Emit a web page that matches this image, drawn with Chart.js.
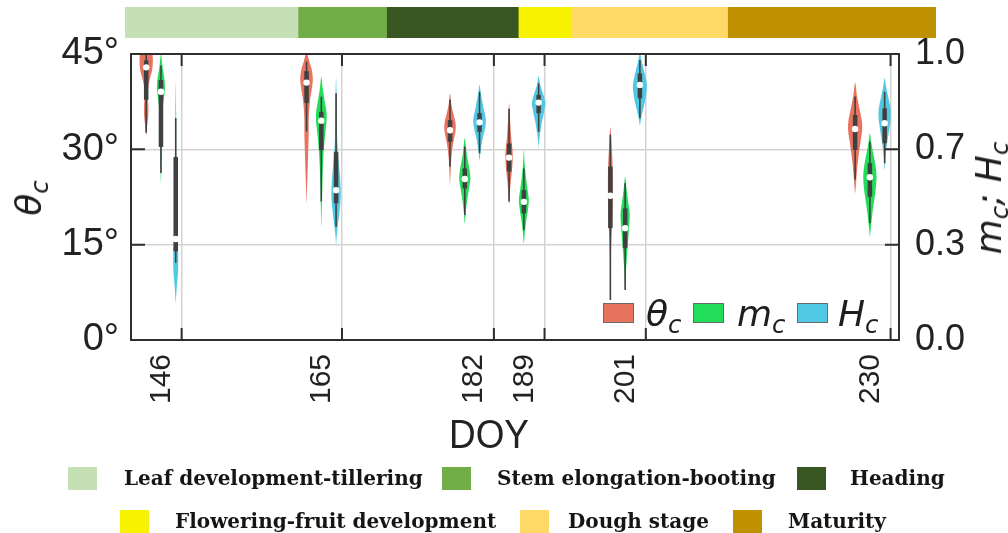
<!DOCTYPE html>
<html>
<head>
<meta charset="utf-8">
<script src="https://cdn.jsdelivr.net/npm/chart.js@4.4.1/dist/chart.umd.min.js"></script>
<style>
  html, body { margin: 0; padding: 0; background: #fff; }
  #wrap { position: relative; width: 1008px; height: 533px; overflow: hidden; }
  #main { position: absolute; left: 0; top: 0; }
  #stages { position: absolute; left: 125px; top: 7px; }
  .math { position: absolute; font-family: "DejaVu Sans", sans-serif; font-style: italic; font-size: 36px; line-height: 1; color: #1e1e1e; white-space: nowrap; }
  .math .sb { font-size: 0.68em; position: relative; top: 0.3em; }
  .ytitle { transform: translate(-50%, -50%) rotate(-90deg); }
  .xtitle { position: absolute; transform: translate(-50%, -50%) scaleX(0.9); font-family: "Liberation Sans", sans-serif; font-size: 41px; line-height: 1; color: #222; }
  .sw { position: absolute; box-sizing: border-box; }
  .stage-text { position: absolute; font-family: "DejaVu Serif", serif; font-weight: bold; font-size: 20px; line-height: 1; color: #151515; white-space: nowrap; }
</style>
</head>
<body>
<div id="wrap">
  <canvas id="main" width="1008" height="533"></canvas>
  <canvas id="stages" width="811" height="31"></canvas>
  <div id="overlay"></div>
</div>
<script>
// --- eixos ---
const xTickValues = [146, 165, 183, 189, 201, 230];
const xTickLabels = ["146", "165", "182", "189", "201", "230"];
const thetaTickValues = [0, 15, 30, 45];
const thetaTickLabels = ["0°", "15°", "30°", "45°"];
const fracTickValues = [0, 1 / 3, 2 / 3, 1];
const fracTickLabels = ["0.0", "0.3", "0.7", "1.0"];

// dias de amostragem
const doyValues = [146, 165, 182, 189, 201, 230];

// theta_c (graus): mediana, quartis, bigodes e perfil [valor, densidade relativa]
const thetaMedian = [42.9, 40.5, 33.0, 28.7, 22.7, 33.2];
const thetaQ1 = [37.8, 37.3, 31.2, 26.5, 17.6, 29.9];
const thetaQ3 = [44.0, 42.3, 34.6, 30.9, 27.3, 35.4];
const thetaLow = [32.6, 32.8, 27.3, 21.8, 6.3, 25.2];
const thetaHigh = [45.0, 43.8, 37.8, 36.4, 32.3, 38.3];
const thetaShape = [
  [[32.2, 0], [33.5, 0.12], [35, 0.28], [36.5, 0.32], [38, 0.25], [39.5, 0.25], [41, 0.5], [42.5, 0.85], [44, 0.95], [45.5, 0.8], [47, 0]],
  [[21.5, 0], [23.5, 0.06], [26, 0.14], [29, 0.22], [32, 0.3], [35, 0.32], [37.5, 0.48], [39.5, 0.75], [41, 0.9], [42.5, 0.75], [43.8, 0.4], [45.2, 0]],
  [[24.6, 0], [26, 0.07], [28, 0.15], [30, 0.32], [31.5, 0.55], [33, 0.8], [34.2, 0.78], [35.5, 0.5], [37, 0.2], [38.8, 0]],
  [[21.3, 0], [22.5, 0.08], [24.5, 0.2], [26.5, 0.4], [28.5, 0.52], [30, 0.48], [32, 0.3], [35, 0.12], [37.3, 0]],
  [[6, 0], [9, 0.03], [13, 0.07], [16, 0.15], [19, 0.28], [22, 0.34], [25, 0.36], [28, 0.3], [31, 0.15], [33.5, 0]],
  [[23.1, 0], [25, 0.15], [27, 0.3], [29, 0.5], [31, 0.75], [33, 1.0], [34.5, 0.95], [36.5, 0.6], [38.5, 0.25], [40.5, 0]]
];

// m_c
const mMedian = [0.868, 0.767, 0.563, 0.483, 0.391, 0.569];
const mQ1 = [0.675, 0.664, 0.530, 0.443, 0.321, 0.501];
const mQ3 = [0.909, 0.798, 0.600, 0.524, 0.460, 0.618];
const mLow = [0.584, 0.484, 0.437, 0.385, 0.175, 0.408];
const mHigh = [0.960, 0.851, 0.676, 0.600, 0.548, 0.693];
const mShape = [
  [[0.549, 0], [0.6, 0.06], [0.66, 0.1], [0.72, 0.12], [0.78, 0.18], [0.82, 0.3], [0.86, 0.5], [0.89, 0.57], [0.92, 0.45], [0.96, 0.2], [1.0, 0]],
  [[0.396, 0], [0.44, 0.05], [0.48, 0.08], [0.55, 0.15], [0.62, 0.25], [0.68, 0.4], [0.73, 0.6], [0.77, 0.76], [0.8, 0.72], [0.84, 0.45], [0.88, 0.2], [0.92, 0]],
  [[0.408, 0], [0.45, 0.15], [0.49, 0.35], [0.53, 0.6], [0.565, 0.8], [0.6, 0.65], [0.64, 0.35], [0.68, 0.15], [0.706, 0]],
  [[0.338, 0], [0.37, 0.12], [0.41, 0.3], [0.45, 0.55], [0.49, 0.71], [0.53, 0.5], [0.58, 0.25], [0.62, 0.1], [0.664, 0]],
  [[0.175, 0], [0.2, 0.04], [0.24, 0.12], [0.29, 0.25], [0.34, 0.4], [0.39, 0.55], [0.44, 0.66], [0.48, 0.45], [0.53, 0.2], [0.571, 0]],
  [[0.361, 0], [0.38, 0.08], [0.42, 0.25], [0.47, 0.5], [0.52, 0.8], [0.57, 0.95], [0.61, 0.8], [0.65, 0.5], [0.69, 0.2], [0.723, 0]]
];

// H_c
const hMedian = [0.353, 0.524, 0.761, 0.830, 0.892, 0.758];
const hQ1 = [0.310, 0.478, 0.728, 0.793, 0.845, 0.688];
const hQ3 = [0.640, 0.658, 0.793, 0.857, 0.932, 0.810];
const hLow = [0.270, 0.396, 0.653, 0.728, 0.775, 0.618];
const hHigh = [0.776, 0.863, 0.868, 0.897, 0.979, 0.868];
const hShape = [
  [[0.13, 0], [0.16, 0.08], [0.2, 0.2], [0.24, 0.33], [0.3, 0.36], [0.36, 0.25], [0.45, 0.12], [0.6, 0.08], [0.8, 0.06], [0.9, 0]],
  [[0.33, 0], [0.36, 0.08], [0.4, 0.25], [0.45, 0.5], [0.5, 0.66], [0.56, 0.6], [0.62, 0.38], [0.68, 0.2], [0.75, 0.12], [0.85, 0.08], [0.92, 0]],
  [[0.629, 0], [0.66, 0.15], [0.7, 0.4], [0.73, 0.7], [0.76, 0.9], [0.78, 0.85], [0.82, 0.5], [0.86, 0.2], [0.892, 0]],
  [[0.67, 0], [0.69, 0.06], [0.72, 0.2], [0.76, 0.45], [0.8, 0.8], [0.83, 0.95], [0.86, 0.65], [0.89, 0.25], [0.921, 0]],
  [[0.752, 0], [0.78, 0.2], [0.81, 0.5], [0.85, 0.85], [0.89, 1.0], [0.93, 0.7], [0.97, 0.3], [1.0, 0]],
  [[0.594, 0], [0.64, 0.12], [0.68, 0.3], [0.72, 0.55], [0.76, 0.8], [0.8, 0.88], [0.84, 0.6], [0.88, 0.25], [0.915, 0]]
];

// fases fenologicas (barra superior)
const stageNames = ["Leaf development-tillering", "Stem elongation-booting", "Heading",
  "Flowering-fruit development", "Dough stage", "Maturity"];
const stageEdges = [139.3, 159.8, 170.3, 185.9, 192.1, 210.7, 235.4];

// estilos
const stageColors = ["#c5e0b4", "#70ad47", "#385723", "#f7f200", "#ffd966", "#bf9000"];
const stageSlots = [
  { sw: 68, tx: 124, top: 467 }, { sw: 442, tx: 497, top: 467 }, { sw: 797, tx: 850, top: 467 },
  { sw: 120, tx: 175, top: 510 }, { sw: 520, tx: 568, top: 510 }, { sw: 733, tx: 788, top: 510 }
];
const VIOLIN_HALF = 0.83;   // meia largura maxima, em dias
const INK = "#404040";
const GRID = "#d3d3d3";
const TEXT = "#222";

const series = [
  { axis: "yT", dx: -4.2, color: "#e8735f", shape: thetaShape, med: thetaMedian, q1: thetaQ1, q3: thetaQ3, lo: thetaLow, hi: thetaHigh },
  { axis: "yF", dx: -2.45, color: "#22dd5a", shape: mShape, med: mMedian, q1: mQ1, q3: mQ3, lo: mLow, hi: mHigh },
  { axis: "yF", dx: -0.7, color: "#52c9e4", shape: hShape, med: hMedian, q1: hQ1, q3: hQ3, lo: hLow, hi: hHigh }
];

// monta datasets
const datasets = [];
series.forEach(s => {
  doyValues.forEach((doy, i) => {
    const x0 = doy + s.dx;
    const right = s.shape[i].map(([v, d]) => ({ x: x0 + d * VIOLIN_HALF, y: v }));
    const left = s.shape[i].slice().reverse().map(([v, d]) => ({ x: x0 - d * VIOLIN_HALF, y: v }));
    datasets.push({
      role: "violin", violinColor: s.color, yAxisID: s.axis, order: 3,
      data: right.concat(left.slice(1, -1)), showLine: false, pointRadius: 0
    });
    datasets.push({
      yAxisID: s.axis, order: 2, data: [{ x: x0, y: s.lo[i] }, { x: x0, y: s.hi[i] }],
      borderColor: INK, borderWidth: 1.6, pointRadius: 0
    });
    datasets.push({
      yAxisID: s.axis, order: 1, data: [{ x: x0, y: s.q1[i] }, { x: x0, y: s.q3[i] }],
      borderColor: INK, borderWidth: 4.5, borderCapStyle: "butt", pointRadius: 0
    });
    datasets.push({
      yAxisID: s.axis, order: 0, data: [{ x: x0, y: s.med[i] }], showLine: false,
      pointRadius: 3.2, pointBackgroundColor: "#fff", pointBorderWidth: 0
    });
  });
});

// desenha os violinos (curva fechada suave pelos pontos do dataset)
const violinPainter = {
  id: "violinPainter",
  beforeDatasetsDraw(chart) {
    const ctx = chart.ctx, a = chart.chartArea;
    ctx.save();
    ctx.beginPath();
    ctx.rect(a.left, a.top, a.right - a.left, a.bottom - a.top);
    ctx.clip();
    chart.data.datasets.forEach((ds, i) => {
      if (ds.role !== "violin") return;
      const pts = chart.getDatasetMeta(i).data.map(p => ({ x: p.x, y: p.y }));
      const n = pts.length;
      ctx.beginPath();
      ctx.moveTo(pts[0].x, pts[0].y);
      for (let k = 0; k < n; k++) {
        const p0 = pts[(k - 1 + n) % n], p1 = pts[k], p2 = pts[(k + 1) % n], p3 = pts[(k + 2) % n];
        ctx.bezierCurveTo(
          p1.x + (p2.x - p0.x) / 6, p1.y + (p2.y - p0.y) / 6,
          p2.x - (p3.x - p1.x) / 6, p2.y - (p3.y - p1.y) / 6,
          p2.x, p2.y);
      }
      ctx.closePath();
      ctx.fillStyle = ds.violinColor;
      ctx.fill();
    });
    ctx.restore();
  }
};

// moldura e ticks para dentro
const framePainter = {
  id: "framePainter",
  afterDatasetsDraw(chart) {
    const { ctx, chartArea: a, scales } = chart;
    ctx.save();
    ctx.strokeStyle = "#2e2e2e";
    ctx.lineWidth = 2;
    ctx.beginPath();
    scales.x.ticks.forEach(t => {
      const px = scales.x.getPixelForValue(t.value);
      ctx.moveTo(px, a.bottom); ctx.lineTo(px, a.bottom - 12);
      ctx.moveTo(px, a.top); ctx.lineTo(px, a.top + 12);
    });
    scales.yT.ticks.forEach(t => {
      const py = scales.yT.getPixelForValue(t.value);
      ctx.moveTo(a.left, py); ctx.lineTo(a.left + 14, py);
    });
    scales.yF.ticks.forEach(t => {
      const py = scales.yF.getPixelForValue(t.value);
      ctx.moveTo(a.right, py); ctx.lineTo(a.right - 14, py);
    });
    ctx.stroke();
    ctx.strokeRect(a.left, a.top, a.right - a.left, a.bottom - a.top);
    ctx.restore();
  }
};

const tickFont = (size) => ({ family: "'Liberation Sans', Arial, sans-serif", size });

new Chart(document.getElementById("main"), {
  type: "line",
  data: { datasets },
  options: {
    responsive: false, animation: false, events: [],
    layout: { padding: { top: 54, bottom: 73, left: 0, right: 0 } },
    plugins: { legend: { display: false }, tooltip: { enabled: false } },
    scales: {
      x: {
        type: "linear", min: 140, max: 231,
        afterBuildTicks: s => { s.ticks = xTickValues.map(v => ({ value: v })); },
        afterFit: s => { s.height = 120; },
        ticks: {
          autoSkip: false, minRotation: 90, maxRotation: 90, padding: 14, labelOffset: -20,
          color: TEXT, font: tickFont(30), callback: (v, i) => xTickLabels[i]
        },
        grid: { color: GRID, lineWidth: 1.5, drawTicks: false },
        border: { display: false }
      },
      yT: {
        position: "left", min: 0, max: 45,
        afterBuildTicks: s => { s.ticks = thetaTickValues.map(v => ({ value: v })); },
        afterFit: s => { s.width = 131; },
        ticks: { padding: 12, color: TEXT, font: tickFont(38), callback: (v, i) => thetaTickLabels[i] },
        grid: { color: GRID, lineWidth: 1.5, drawTicks: false },
        border: { display: false }
      },
      yF: {
        position: "right", min: 0, max: 1,
        afterBuildTicks: s => { s.ticks = fracTickValues.map(v => ({ value: v })); },
        afterFit: s => { s.width = 109; },
        ticks: { padding: 8, color: TEXT, font: tickFont(36), callback: (v, i) => fracTickLabels[i] },
        grid: { display: false },
        border: { display: false }
      }
    }
  },
  plugins: [violinPainter, framePainter]
});

// barra de fases
new Chart(document.getElementById("stages"), {
  type: "bar",
  data: {
    labels: [""],
    datasets: stageNames.map((name, i) => ({
      label: name, data: [[stageEdges[i], stageEdges[i + 1]]], backgroundColor: stageColors[i],
      borderWidth: 0, barPercentage: 1, categoryPercentage: 1, grouped: false
    }))
  },
  options: {
    indexAxis: "y", responsive: false, animation: false, events: [],
    layout: { padding: 0 },
    plugins: { legend: { display: false }, tooltip: { enabled: false } },
    scales: {
      x: { type: "linear", display: false, min: stageEdges[0], max: stageEdges[stageEdges.length - 1] },
      y: { display: false }
    }
  }
});

// textos: titulos, legenda interna e legenda das fases
const overlay = document.getElementById("overlay");
let html = "";
html += `<div class="xtitle" style="left:489px;top:434px">DOY</div>`;
html += `<div class="math ytitle" style="left:29px;top:198px">θ<span class="sb">c</span></div>`;
html += `<div class="math ytitle" style="left:989px;top:198px">m<span class="sb">c</span>; H<span class="sb">c</span></div>`;
const innerLegend = [
  { sw: 603, tx: 646, sym: "θ", color: series[0].color },
  { sw: 693, tx: 737, sym: "m", color: series[1].color },
  { sw: 797, tx: 838, sym: "H", color: series[2].color }
];
innerLegend.forEach(l => {
  html += `<div class="sw" style="left:${l.sw}px;top:303px;width:31px;height:20px;background:${l.color};border:1.5px solid #6a6a6a"></div>`;
  html += `<div class="math" style="left:${l.tx}px;top:296px">${l.sym}<span class="sb">c</span></div>`;
});
stageNames.forEach((name, i) => {
  const s = stageSlots[i];
  html += `<div class="sw" style="left:${s.sw}px;top:${s.top}px;width:29px;height:23px;background:${stageColors[i]}"></div>`;
  html += `<div class="stage-text" style="left:${s.tx}px;top:${s.top + 1}px">${name}</div>`;
});
overlay.innerHTML = html;
</script>
</body>
</html>
